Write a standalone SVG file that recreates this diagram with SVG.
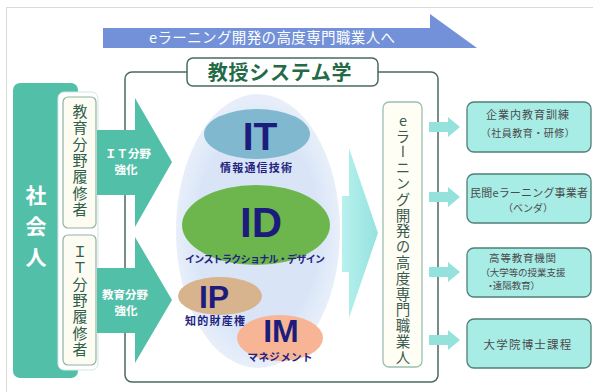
<svg xmlns="http://www.w3.org/2000/svg" width="593" height="392" viewBox="0 0 593 392">
<defs>
<style>
.jp{font-family:"Noto Sans CJK JP","Noto Sans",sans-serif}
.vt{writing-mode:vertical-rl;text-orientation:upright}
.big{font-family:"Liberation Sans",Arial,sans-serif;font-weight:bold;fill:#1c1c7c;text-anchor:middle}
.cap{font-family:"Noto Sans CJK JP",sans-serif;font-weight:bold;fill:#23237f;text-anchor:middle}
.rbox{fill:#a8ece6;stroke:#4f7f78;stroke-width:1.3}
.rt{font-family:"Noto Sans CJK JP",sans-serif;fill:#4a4a4a}
.palt{font-feature-settings:"palt"}
.sarrow{fill:#95e2dc}
.teal{fill:#52c0a8}
.aw{font-family:"Noto Sans CJK JP",sans-serif;font-weight:bold;fill:#fff;font-size:11.5px;text-anchor:middle}
</style>
<radialGradient id="bub" cx="0.5" cy="0.5" r="0.5">
<stop offset="0.75" stop-color="#d9e5f7"/>
<stop offset="1" stop-color="#e8effa"/>
</radialGradient>
<linearGradient id="cy" x1="0" y1="0" x2="1" y2="0">
<stop offset="0" stop-color="#b8f1ee"/>
<stop offset="1" stop-color="#94e2df"/>
</linearGradient>
</defs>
<rect width="593" height="392" fill="#fff"/>
<rect x="6.5" y="7.5" width="620" height="420" fill="none" stroke="#dadada"/>

<g id="banner">
<polygon points="103,28 430,28 430,14 477,48 103,48" fill="#7391d8"/>
<text class="jp" x="272" y="43" font-size="14.5" fill="#fff" text-anchor="middle" textLength="246">eラーニング開発の高度専門職業人へ</text>
</g>

<g id="frame">
<rect x="125" y="72" width="313" height="310" rx="7" fill="none" stroke="#4a6a60" stroke-width="1.5"/>
</g>

<g id="title">
<rect x="187" y="58" width="191" height="28" rx="6" fill="#fff" stroke="#4a6a60" stroke-width="1.5"/>
<text class="jp" x="280" y="80" font-size="20" font-weight="bold" fill="#236b47" text-anchor="middle" letter-spacing="0.7">教授システム学</text>
</g>

<g id="shakaijin">
<rect x="13" y="83" width="65" height="295" rx="7" class="teal"/>
<text class="jp vt" x="36" y="185" font-size="21" font-weight="bold" fill="#fff" letter-spacing="10">社会人</text>
</g>

<g id="learners">
<rect x="58" y="92" width="40" height="278" rx="6" fill="#fff" stroke="#d6e7df"/>
<g id="edu-learner">
<rect x="63" y="97" width="33" height="131" rx="5" fill="#fdfcf3" stroke="#8fb3a4" stroke-width="1.2"/>
<text class="jp vt" x="80" y="104" font-size="15" fill="#2f5f4a" letter-spacing="1.3">教育分野履修者</text>
</g>
<g id="it-learner">
<rect x="63" y="235" width="33" height="130" rx="5" fill="#fdfcf3" stroke="#8fb3a4" stroke-width="1.2"/>
<text class="jp vt" x="80" y="244" font-size="15" fill="#2f5f4a" letter-spacing="1.3">ＩＴ分野履修者</text>
</g>
</g>

<g id="connectors">
<g id="arrow-it">
<polygon class="teal" points="97,130 135,130 135,98 172,162 135,227 135,195 97,195"/>
<text class="aw" x="128" y="158">ＩＴ分野</text>
<text class="aw" x="126" y="174">強化</text>
</g>
<g id="arrow-edu">
<polygon class="teal" points="97,268 135,268 135,237 172,300 135,363 135,333 97,333"/>
<text class="aw" x="125" y="299">教育分野</text>
<text class="aw" x="126" y="315">強化</text>
</g>
<polygon points="342,196 349,196 349,148 378,233 349,318 349,272 342,272" fill="url(#cy)"/>
<polygon class="sarrow" points="429,122 448,122 448,117 460,127 448,137 448,132 429,132"/>
<polygon class="sarrow" points="429,192 448,192 448,187 460,197 448,207 448,202 429,202"/>
<polygon class="sarrow" points="429,267 448,267 448,262 460,272 448,282 448,277 429,277"/>
<polygon class="sarrow" points="429,335 448,335 448,330 460,340 448,350 448,345 429,345"/>
</g>

<g id="bubble">
<ellipse cx="258" cy="231" rx="82" ry="137" fill="url(#bub)"/>
</g>
<g id="IT">
<ellipse cx="257" cy="134" rx="53" ry="25" fill="#80b8d0"/>
<text class="big" x="260" y="150" font-size="39">IT</text>
<text class="cap" x="256" y="172" font-size="11" textLength="72">情報通信技術</text>
</g>
<g id="ID">
<ellipse cx="256" cy="225" rx="74" ry="40" fill="#6db64d"/>
<text class="big" x="261" y="237" font-size="42">ID</text>
<text class="cap" x="255" y="263" font-size="10" font-weight="normal" textLength="140">インストラクショナル・デザイン</text>
</g>
<g id="IP">
<ellipse cx="220" cy="296" rx="42" ry="19" fill="#d8b48e"/>
<text class="big" x="214" y="308" font-size="32">IP</text>
<text class="cap" x="215" y="325" font-size="11" textLength="60">知的財産権</text>
</g>
<g id="IM">
<ellipse cx="280" cy="338" rx="43" ry="23" fill="#f7b595"/>
<text class="big" x="281" y="342" font-size="32">IM</text>
<text class="cap" x="280" y="361" font-size="10.5" font-weight="normal" textLength="65">マネジメント</text>
</g>

<g id="elearning-pro">
<rect x="383" y="102" width="39" height="265" rx="6" fill="#fffef4" stroke="#9bbfb0" stroke-width="1.3"/>
<text class="jp vt" x="403" y="113" font-size="14.5" fill="#3a5a50" letter-spacing="1.3">eラーニング開発の高度専門職業人</text>
</g>

<g id="corp">
<rect class="rbox" x="467" y="102" width="124" height="50" rx="7"/>
<text class="rt" x="528" y="119" text-anchor="middle" font-size="11" letter-spacing="1">企業内教育訓練</text>
<text class="rt" x="528" y="137" text-anchor="middle" font-size="10" letter-spacing="0.5">（社員教育・研修）</text>
</g>
<g id="vendor">
<rect class="rbox" x="467" y="174" width="124" height="49" rx="7"/>
<text class="rt" x="529" y="197" text-anchor="middle" font-size="11" textLength="118">民間eラーニング事業者</text>
<text class="rt" x="528" y="212" text-anchor="middle" font-size="10">（ベンダ）</text>
</g>
<g id="higher-ed">
<rect class="rbox" x="467" y="248" width="124" height="49" rx="7"/>
<text class="rt" x="523" y="262" text-anchor="middle" font-size="10.5" letter-spacing="0.8">高等教育機関</text>
<text class="rt palt" x="485" y="276" font-size="9.5">（大学等の授業支援</text>
<text class="rt palt" x="488" y="289" font-size="9.5">・遠隔教育）</text>
</g>
<g id="doctoral">
<rect class="rbox" x="467" y="319" width="124" height="49" rx="7"/>
<text class="rt" x="528" y="349" text-anchor="middle" font-size="11.5" letter-spacing="1.2">大学院博士課程</text>
</g>
</svg>
